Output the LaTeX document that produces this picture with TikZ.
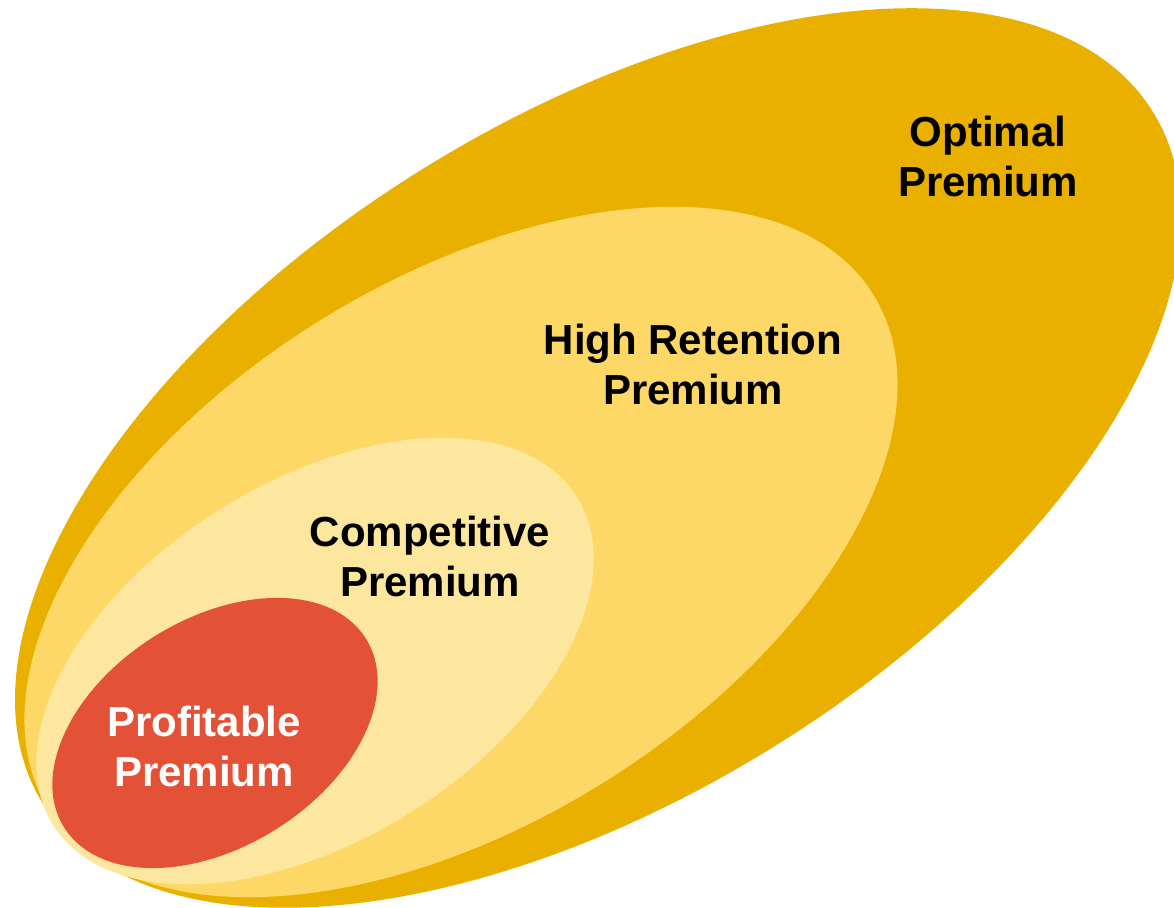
\documentclass[tikz,border=0pt]{standalone}
\usepackage{fontspec}
\setmainfont{Liberation Sans}

\definecolor{optgold}{HTML}{E9B000}
\definecolor{retgold}{HTML}{FDD866}
\definecolor{compgold}{HTML}{FDE69D}
\definecolor{profred}{HTML}{E35136}

\begin{document}
\begin{tikzpicture}[
  x=0.5pt, y=0.5pt,
  zonelabel/.style={align=center, font=\fontsize{21}{25}\selectfont\bfseries, inner sep=0pt}
]
\useasboundingbox (0,0) rectangle (1174,908);
\clip (0,0) rectangle (1174,908);

% nested premium zones, biggest first
\fill[optgold]  (598,450) ellipse [x radius=654, y radius=338, rotate=32];
\fill[retgold]  (461,356) ellipse [x radius=486, y radius=271, rotate=32];
\fill[compgold] (315,247) ellipse [x radius=309, y radius=179, rotate=32];
\fill[profred]  (215,175) ellipse [x radius=178, y radius=114, rotate=32];

\node[zonelabel] (optimal) at (988,751) {Optimal\\Premium};
\node[zonelabel] (retention) at (693,543) {High Retention\\Premium};
\node[zonelabel] (competitive) at (430,351) {Competitive\\Premium};
\node[zonelabel, text=white] (profitable) at (204,161) {Profitable\\Premium};

\end{tikzpicture}
\end{document}
